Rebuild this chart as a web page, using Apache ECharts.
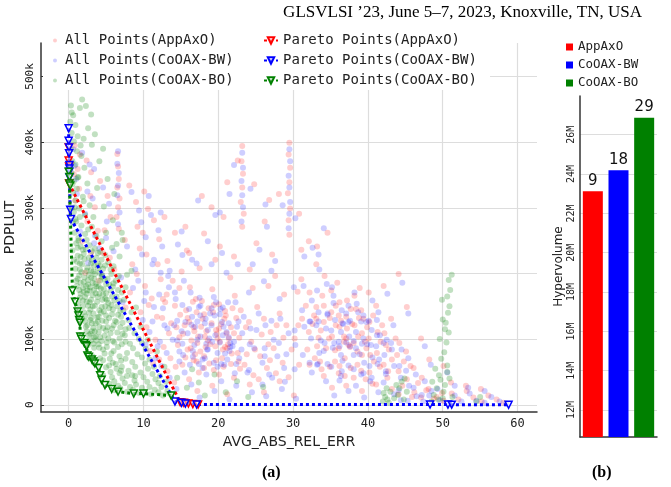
<!DOCTYPE html>
<html><head><meta charset="utf-8">
<script src="https://cdn.jsdelivr.net/npm/echarts@6/dist/echarts.min.js"></script>
<style>html,body{margin:0;padding:0;background:#fff}#c{width:671px;height:487px}</style>
</head><body><div id="c"></div>
<script>
// ---- Scatter cloud samples (x = AVG_ABS_REL_ERR, y = PDPLUT in thousands) ----
const allPointsAppAxO = [
[0.8,395],[1.5,381],[2.4,372],[1.2,359],[3.0,354],[6.5,382],[6.6,363],[6.7,344],[6.5,331],[6.8,314],[6.6,301],[6.4,286],[6.7,268],[4.2,341],[5.2,318],[8.1,334],[9.0,309],[10.6,298],[11.4,281],[3.5,301],[2.5,279],[4.8,266],[7.5,251],[9.5,238],[1.8,249],[3.0,231],[5.5,224],[8.5,214],[10.4,229],[12.1,252],[13.2,219],[2.2,201],[4.0,189],[6.1,206],[0.9,311],[1.4,329],[0.7,351],
[9.1,199],[10.2,181],[11.1,162],[12.3,191],[13.1,168],[14.2,151],[15.1,203],[16.2,179],[17.0,161],[18.1,138],[19.2,176],[20.1,153],[21.0,136],[22.2,166],[23.0,144],[24.1,126],[25.2,149],[26.1,131],[27.0,111],[28.2,139],[29.1,121],[30.2,101],
[9.6,141],[10.4,118],[11.6,99],[12.5,132],[13.4,109],[14.6,91],[15.5,121],[16.4,98],[17.6,81],[18.4,112],[19.6,89],[20.5,71],[21.4,101],[22.6,79],[23.5,61],[24.4,96],[25.6,74],[26.5,56],[27.4,86],[28.6,64],
[12.1,69],[13.2,51],[14.1,34],[15.2,61],[16.1,39],[17.2,21],[18.1,56],[19.2,29],[20.1,46],[21.2,16],[22.1,41],[24.2,31],[26.1,19],[28.2,36],[30.1,14],
[16.1,126],[18.2,104],[20.1,116],[17.2,94],[19.1,124],[21.2,86],[18.1,74],[20.2,96],[22.1,109],[17.1,141],[19.8,108],[21.7,118],[16.8,112],[20.6,84],[18.9,92],
[23.2,394],[23.1,371],[23.3,352],[23.2,331],[23.0,309],[23.4,291],[23.2,271],[29.5,399],[29.4,381],[29.6,361],[29.5,339],[29.3,322],[29.6,299],[29.4,281],[29.5,259],[18.1,261],[20.2,241],[22.1,226],[25.1,246],[27.2,229],[31.1,236],[19.1,301],[26.2,279],[28.1,321],[21.2,339],[32.1,249],[33.1,214],[24.2,206],[16.1,231],[14.2,262],
[31.1,191],[32.2,171],[33.1,149],[34.2,196],[35.1,174],[36.2,156],[37.1,134],[38.2,166],[39.1,144],[40.2,126],[41.1,151],[42.2,109],[43.1,131],[44.2,94],[45.1,81],
[31.2,131],[32.1,111],[33.2,89],[34.1,126],[35.2,104],[36.1,86],[37.2,116],[38.1,94],[39.2,76],[40.1,101],[41.2,79],[42.1,61],[43.2,69],[44.1,51],[45.2,39],[46.1,56],
[32.2,61],[34.1,44],[36.2,59],[38.1,41],[40.2,49],[41.1,31],[43.2,24],[44.1,16],[46.2,19],[47.1,11],[39.2,21],[37.1,29],[35.2,26],
[35.1,141],[36.2,119],[37.1,101],[38.2,121],[34.1,151],[39.2,109],[36.1,136],[37.2,159],[40.1,171],[37.6,88],[38.8,132],[36.8,104],[39.9,118],
[48.1,24],[49.2,12],[50.1,6],[51.2,17],[52.1,8],[53.2,21],[54.1,11],[55.2,5],[56.1,14],[57.2,8],[58.1,3],[55.1,24],[53.1,29],[51.1,34],[47.2,41],
[42.1,181],[45.2,149],[47.1,101],[48.2,69],[44.1,199],[33.2,241],[50.1,59],
[10.7,152],[11.8,134],[12.9,156],[13.7,124],[14.9,137],[15.7,144],[16.6,157],[17.7,119],[18.7,147],[19.7,114],[20.8,131],[21.9,147],[22.8,102],[23.7,118],[24.9,84],[25.8,107],[26.7,92],[27.8,121],[28.7,102],[29.8,84],[30.7,121],
[10.9,82],[11.3,63],[12.7,88],[13.6,71],[14.3,58],[15.9,84],[16.7,68],[17.4,49],[18.8,63],[19.4,53],[20.9,88],[21.7,62],[22.9,55],[23.8,77],[24.7,45],[25.4,39],[26.9,68],[27.7,48],[29.4,42],[30.8,61],
[31.7,151],[32.8,136],[33.7,113],[34.8,101],[35.7,121],[36.8,96],[37.7,146],[38.7,104],[39.8,86],[40.7,136],[41.7,96],[42.8,84],[43.7,101],[44.8,66],[45.7,59],[33.9,166],[35.9,186],[38.9,178],[41.9,121],[43.9,76],
[31.9,84],[32.9,71],[33.8,54],[35.6,66],[36.9,44],[38.6,61],[39.7,39],[40.8,66],[42.6,41],[44.6,29],[46.7,33],[47.8,22],[45.9,12],[48.8,9],[49.9,18],
[8.2,171],[7.6,148],[9.9,262],[11.9,214],[13.9,189],[14.8,178],[12.6,161],[15.8,235],[17.5,208],[19.6,221],[21.6,194],[24.6,178],[26.7,181],[28.8,168],[30.6,172],[27.6,196],
[4.6,231],[5.6,286],[3.9,265],[2.9,318],[9.2,271],[10.1,325],[12.8,286],[15.6,271],[17.8,318],[20.7,286],[24.8,336],[26.8,312],[30.8,291],[34.6,262],[22.6,372],
[14.4,118],[15.3,108],[15.9,132],[16.7,118],[17.3,104],[17.9,131],[18.6,98],[19.3,141],[19.9,101],[20.4,123],[21.1,109],[21.8,78],[22.4,132],[15.6,72],[16.3,86],[17.1,66],[18.3,88],[19.7,68],[20.7,58],[21.3,92],[22.7,66],[14.8,103],[17.8,158],[19.4,152],[20.9,143],[16.9,77],
[32.6,123],[33.4,102],[34.4,86],[34.9,132],[35.6,83],[36.4,128],[36.9,71],[37.4,91],[37.9,123],[38.6,81],[39.4,131],[39.6,96],[40.3,76],[41.3,111],[41.6,58],[42.4,91],[33.6,66],[34.9,58],[36.1,48],[37.7,56],[39.1,52],[40.6,32],[42.7,51],[35.7,151],[38.4,146],[33.1,131]
];
const allPointsCoOAXBW = [
[0.6,389],[1.8,384],[2.8,366],[1.0,344],[3.4,359],[6.6,386],[6.5,367],[6.7,353],[6.6,334],[6.5,319],[6.8,293],[6.6,275],[4.6,331],[5.4,306],[8.4,324],[9.4,296],[11.0,289],[12.0,266],[3.2,314],[2.2,291],[5.0,254],[7.8,241],[9.8,229],[1.5,264],[3.4,246],[6.0,234],[8.9,206],[11.2,214],[12.5,241],[13.5,204],[2.6,216],[4.4,199],[7.0,194],[1.1,321],[0.8,364],
[9.3,189],[10.3,171],[11.4,149],[12.3,201],[13.4,179],[14.3,161],[15.4,189],[16.3,171],[17.4,149],[18.3,131],[19.4,164],[20.3,146],[21.4,124],[22.3,156],[23.4,134],[24.3,116],[25.4,139],[26.3,121],[27.4,99],[28.3,131],[29.4,109],[30.3,91],
[9.9,129],[10.8,111],[11.9,89],[12.8,121],[13.9,99],[14.8,81],[15.9,109],[16.8,91],[17.9,69],[18.8,101],[19.9,79],[20.8,61],[21.9,89],[22.8,71],[23.9,49],[24.8,86],[25.9,64],[26.8,46],[27.9,74],[28.8,56],
[12.4,59],[13.5,41],[14.4,24],[15.5,49],[16.4,31],[17.5,11],[18.4,46],[19.5,21],[20.4,36],[21.5,8],[22.4,29],[24.5,19],[26.4,13],[28.5,24],[30.4,9],
[16.5,134],[18.6,114],[20.5,126],[17.6,104],[19.5,136],[21.6,94],[18.5,84],[20.6,106],[22.5,119],[17.6,151],[19.2,96],[21.1,111],[16.9,119],[20.9,78],[18.2,124],
[23.2,384],[23.3,361],[23.1,341],[23.2,319],[23.3,301],[23.1,279],[29.5,389],[29.6,371],[29.4,349],[29.5,331],[29.6,309],[29.5,291],[29.4,269],[18.6,249],[20.5,231],[22.6,214],[25.5,236],[27.6,219],[31.5,226],[19.6,289],[26.5,271],[28.6,304],[21.5,321],[32.6,239],[33.5,206],[24.6,214],[16.5,221],[14.6,244],
[31.4,181],[32.5,159],[33.4,141],[34.5,184],[35.4,166],[36.5,144],[37.4,126],[38.5,154],[39.4,136],[40.5,114],[41.4,141],[42.5,99],[43.4,121],[44.5,84],[45.4,71],
[31.5,119],[32.4,101],[33.5,79],[34.4,116],[35.5,94],[36.4,76],[37.5,104],[38.4,86],[39.5,64],[40.4,91],[41.5,69],[42.4,51],[43.5,59],[44.4,41],[45.5,29],[46.4,46],
[32.5,49],[34.4,36],[36.5,51],[38.4,29],[40.5,41],[41.4,19],[43.5,16],[44.4,7],[46.5,13],[47.4,5],[39.5,11],[37.4,21],[35.5,14],
[35.6,129],[36.4,111],[37.6,89],[38.4,111],[34.6,139],[39.4,101],[36.6,124],[37.4,151],[40.6,159],[38.1,76],[39.8,126],[36.1,96],[41.2,106],
[48.5,21],[49.6,7],[50.5,3],[51.6,14],[52.5,5],[53.6,17],[54.5,6],[55.6,3],[56.5,12],[57.6,5],[58.5,2],[55.6,21],[53.4,26],[51.6,29],[47.6,36],
[42.6,169],[45.4,139],[47.6,89],[48.4,61],[44.6,186],[33.4,229],[50.6,49],
[10.1,158],[11.2,127],[12.6,147],[13.2,116],[14.5,128],[15.2,152],[16.1,146],[17.2,127],[18.9,139],[19.1,121],[20.2,138],[21.3,156],[22.1,96],[23.2,109],[24.2,92],[25.1,114],[26.2,86],[27.1,128],[28.1,94],[29.1,77],[30.2,113],
[10.3,91],[11.6,71],[12.2,96],[13.1,79],[14.8,66],[15.2,93],[16.2,61],[17.9,56],[18.2,71],[19.9,58],[20.2,95],[21.2,69],[22.2,48],[23.1,84],[24.1,53],[25.9,31],[26.2,74],[27.2,41],[28.9,35],[30.2,54],
[31.2,144],[32.2,127],[33.1,121],[34.2,94],[35.1,113],[36.2,89],[37.1,139],[38.1,97],[39.2,93],[40.1,128],[41.1,89],[42.2,76],[43.1,94],[44.2,59],[45.1,52],[33.2,174],[35.2,179],[38.2,171],[41.2,129],[43.2,84],
[31.3,76],[32.2,64],[33.2,61],[35.1,58],[36.2,37],[38.1,54],[39.1,46],[40.2,59],[42.1,34],[44.1,22],[46.1,26],[47.2,15],[45.3,6],[48.2,14],[49.3,24],
[8.6,178],[7.2,156],[10.3,255],[11.4,221],[13.3,196],[14.2,171],[12.1,168],[15.2,228],[17.1,215],[19.1,214],[21.1,201],[24.1,171],[26.1,188],[28.2,161],[30.1,179],[27.1,204],
[4.1,238],[5.1,279],[3.5,258],[2.5,325],[9.7,278],[10.7,318],[12.3,293],[15.1,264],[17.3,311],[20.2,293],[24.3,329],[26.3,305],[30.3,284],[34.1,269],[22.1,365],
[14.1,121],[15.1,112],[15.6,126],[16.4,122],[17.2,99],[17.6,136],[18.4,93],[19.1,147],[19.6,106],[20.7,119],[21.4,103],[21.5,82],[22.7,127],[15.3,76],[16.6,82],[17.4,62],[18.6,84],[19.4,64],[20.4,62],[21.6,88],[22.4,62],[14.5,98],[17.5,163],[19.7,156],[20.6,148],[16.6,73],
[32.3,127],[33.7,98],[34.1,82],[34.6,137],[35.3,87],[36.7,123],[36.6,67],[37.1,95],[37.6,128],[38.9,77],[39.1,127],[39.9,92],[40.6,72],[41.6,106],[41.3,62],[42.1,94],[33.3,62],[34.6,62],[36.4,44],[37.4,60],[39.4,48],[40.3,36],[42.4,47],[35.4,155],[38.7,141],[33.4,127]
];
const allPointsCoOAXBO = [
[0.3,456],[0.6,441],[0.2,431],[0.9,426],[0.4,414],[1.2,409],[0.7,401],[0.3,389],[1.1,386],[1.7,379],[0.5,371],[0.9,366],[2.1,361],[0.4,353],[1.3,347],[0.7,341],[2.5,337],[1.1,329],[0.6,323],[1.9,317],[0.9,311],[2.8,304],[1.4,299],[0.7,294],[2.2,289],[3.3,286],[1.0,279],[1.7,273],[2.6,267],[0.8,262],[3.7,257],[1.3,254],[4.4,249],
[2.6,421],[3.1,396],[4.1,371],[5.2,344],[6.1,321],[3.0,442],[4.7,302],[5.9,281],[7.1,262],[1.5,452],[2.0,405],[3.8,330],[1.8,465],
[1.0,246],[1.6,241],[2.3,237],[3.1,234],[3.9,231],[1.2,227],[2.7,224],[4.4,221],[5.3,217],[1.8,214],[3.4,212],[0.9,207],[2.4,204],[4.1,201],[5.7,199],[1.4,197],[3.0,194],[4.8,191],[6.3,189],[2.0,187],[3.6,184],[1.1,181],[2.9,179],[4.3,177],[5.6,174],[7.1,171],[1.6,169],[3.2,167],[2.2,164],[4.9,162],[6.1,159],[3.8,157],[1.3,154],[2.6,151],[4.4,149],[5.4,147],[7.3,144],[2.0,141],[3.3,139],[6.6,137],[4.0,134],[1.8,131],[2.9,129],[5.0,127],[3.6,124],[6.0,121],[2.3,119],[4.6,117],[7.6,115],[3.1,112],[5.6,109],[2.7,106],[4.2,103],[6.8,101],[3.7,98],[5.1,95],[8.2,93],
[2.5,209],[3.5,199],[4.2,189],[2.8,174],[3.9,164],[2.4,157],[4.7,142],[3.2,150],[2.1,194],[3.1,221],[4.6,207],[3.7,180],[2.7,140],[3.9,127],[5.3,155],[1.9,159],[4.1,169],[2.3,181],[3.0,205],[5.0,184],[1.5,215],[2.0,230],[2.6,190],[3.4,175],[4.5,160],[5.8,138],[6.5,150],[5.2,118],[4.8,105],[3.5,112],
[2.6,91],[3.4,87],[4.6,84],[6.0,82],[7.8,79],[9.2,77],[3.2,74],[4.2,71],[5.5,70],[7.0,67],[8.5,65],[10.2,63],[3.9,60],[5.0,57],[6.4,55],[8.0,52],[9.6,49],[11.2,47],[4.6,45],[5.8,42],[7.2,40],[8.8,37],[10.5,35],[12.0,33],[5.4,32],[6.6,29],[8.2,27],[9.8,26],[11.5,23],[6.2,22],[7.8,20],[9.4,18],[11.0,16],[12.6,14],[13.2,21],[12.2,44],[10.8,69],[9.8,94],[8.8,109],[8.0,129],[9.0,148],[7.6,179],[8.4,204],[6.8,226],[5.8,239],[7.2,251],[9.6,119],[10.6,99],[11.8,81],[12.8,58],
[14.5,41],[15.8,26],[16.5,54],[17.4,34],[18.2,14],[19.5,46],[21.0,19],[22.5,36],[24.0,12],[26.0,27],
[0.5,336],[0.8,301],[1.5,286],[0.6,276],[2.4,251],[1.2,239],[0.7,221],[1.7,202],[1.0,189],[2.5,174],[1.4,175],[2.0,172],[1.6,186],[3.4,192],[4.5,197],[3.9,215],[4.9,228],[6.0,211],[6.7,196],[5.9,180],[5.0,170],[6.4,165],[7.4,160],[5.7,152],[4.3,140],[3.0,132],[2.2,127],[2.4,112],[3.4,103],[4.0,111],[5.0,136],[6.2,128],[6.9,118],[7.2,108],[5.9,97],[6.6,88],[7.6,96],[8.6,86],[4.0,92],[3.0,98],[4.8,78],[5.9,64],[7.1,58],[8.9,58],[9.8,72],[10.6,55],[11.6,39],[10.0,42],[8.5,45],[6.8,48],[7.5,33],[9.0,31],[10.8,27],[12.4,27],[13.0,35],[8.6,23],[10.2,20],[12.0,19],[13.5,17],[11.4,58],[9.4,100],[10.3,85],[8.1,117],[7.0,134],[8.4,141],[7.8,198],[6.4,245],[5.0,262],[3.1,271],[2.0,310],[1.2,346],[1.6,395],[0.4,445],[2.3,455],[3.5,412],[4.6,390],[0.4,300],[0.5,235],[0.9,283],
[1.3,250],[1.9,236],[2.8,243],[3.5,238],[4.2,233],[1.1,218],[2.1,222],[3.0,215],[3.9,208],[4.9,212],[5.6,206],[1.5,206],[2.7,198],[3.3,203],[4.4,195],[5.2,192],[6.0,185],[1.2,192],[1.9,178],[2.6,183],[3.2,186],[4.0,180],[4.7,176],[5.4,183],[6.6,175],[1.5,163],[2.4,169],[3.0,160],[3.6,170],[4.6,168],[5.1,160],[5.8,165],[6.8,158],[1.9,150],[2.9,145],[3.5,151],[4.1,144],[4.9,150],[5.9,145],[6.9,143],[2.2,135],[3.1,124],[3.8,133],[4.5,128],[5.4,132],[6.4,126],[7.2,125],[2.5,121],[3.3,117],[4.1,119],[5.0,113],[5.8,116],[6.5,110],[7.5,106],[2.9,108],[3.6,104],[4.4,97],[5.3,101],[6.1,95],[7.1,92],[3.3,93],[4.1,87],[5.1,88],[5.7,78],[6.8,74],[7.6,70],[4.6,68],[5.4,60],[6.3,62],[7.0,52],[7.8,44],[8.9,44],[5.6,50],[6.1,36],[6.9,25],[2.2,260],[1.6,225],[3.7,224],[4.2,212],[2.8,156],
[42.0,5],[42.3,12],[42.6,8],[42.1,18],[42.8,3],[43.5,10],[44.2,25],[44.5,35],[44.0,15],[44.8,8],[45.2,20],[43.8,30],[43.0,20],[44.9,40],[42.5,25],
[48.5,5],[48.8,15],[49.2,25],[48.6,35],[49.5,45],[49.0,55],[50.0,10],[50.3,30],[50.6,60],[50.2,80],[50.5,95],[50.8,110],[50.4,125],[50.7,140],[50.9,150],[50.6,165],[51.0,175],[50.8,190],[51.2,198],[49.8,70],[50.1,20],[49.4,8],[51.3,12],[50.9,40],[49.6,100],[50.0,130],[49.9,160],[50.3,115],[49.7,38],[50.6,50],[54.5,5],[55.0,12]
];
// ---- Pareto fronts ----
const paretoAppAxO = [[0,392],[0,372],[0.05,363],[0.05,337],[14.9,4],[15.4,3],[16.0,2],[16.6,1],[17.3,0.5]];
const paretoCoOAXBW = [[0,421],[0,402],[0.05,392],[0.05,383],[0.1,365],[0.1,360],[0.1,355],[0.1,346],[0.2,297],[0.3,283],[14.2,5],[15.1,3],[15.6,2],[17.1,0.5],[48.3,0.4],[50.7,0.3],[51.2,0.2],[58.8,0.1]];
const paretoCoOAXBO = [[0,355],[0.1,347],[0.1,337],[0.2,334],[0.5,174],[0.85,157],[1.2,142],[1.3,136],[1.4,129],[1.5,125],[1.55,104],[1.7,100],[2.1,94],[2.3,91],[2.4,89],[2.5,75],[2.7,73],[3.1,69],[3.3,66],[3.5,63],[4.0,56],[4.2,45],[4.4,38],[4.85,30],[5.75,24],[6.6,20],[8.7,17],[10.0,17],[13.7,14]];
// ---- Hypervolume bars (in millions) ----
const methods = ['AppAxO','CoOAX-BW','CoOAX-BO'];
const hypervolume = [23.13, 24.2, 26.87];
const barLabels = ['9','18','29'];
const colors = ['#ff0000','#0000ff','#008000'];
const cloudColors = ['rgba(255,0,0,0.24)','rgba(0,0,255,0.24)','rgba(0,128,0,0.3)'];

const mono = 'DejaVu Sans Mono';
const sans = 'DejaVu Sans';
const clouds = [allPointsAppAxO, allPointsCoOAXBW, allPointsCoOAXBO];
const fronts = [paretoAppAxO, paretoCoOAXBW, paretoCoOAXBO];
const series = [];
methods.forEach((m,i)=>{
  series.push({type:'scatter', name:'All Points('+m+')', xAxisIndex:0, yAxisIndex:0,
    data:clouds[i], symbol:'circle', symbolSize:6, itemStyle:{color:cloudColors[i]}, z:2});
});
methods.forEach((m,i)=>{
  series.push({type:'line', name:'Pareto Points('+m+')', xAxisIndex:0, yAxisIndex:0,
    data:fronts[i], symbol:'triangle', symbolRotate:180, symbolSize:7, showAllSymbol:true,
    lineStyle:{color:colors[i], width:3, type:[3,3]},
    itemStyle:{color:'rgba(255,255,255,0.5)', borderColor:colors[i], borderWidth:1.5}, z:5});
});
methods.forEach((m,i)=>{
  series.push({type:'bar', name:m, xAxisIndex:1, yAxisIndex:1, barWidth:20, barGap:'-100%',
    data:methods.map((_,j)=> j===i ? hypervolume[i] : '-'),
    itemStyle:{color:colors[i]},
    label:{show:true, position:'top', distance:3, fontFamily:sans, fontSize:15, color:'#111',
      formatter:()=>barLabels[i]}});
});

const chart = echarts.init(document.getElementById('c'));
chart.setOption({
  animation:false,
  backgroundColor:'#fff',
  title:[
    {text:'GLSVLSI ’23, June 5–7, 2023, Knoxville, TN, USA', right:29, top:4, padding:0,
     textStyle:{fontFamily:'Liberation Serif', fontSize:17, fontWeight:'normal', color:'#000'}},
    {text:'(a)', left:262, top:465, padding:0, textStyle:{fontFamily:'Liberation Serif', fontSize:16, fontWeight:'bold', color:'#000'}},
    {text:'(b)', left:592, top:465, padding:0, textStyle:{fontFamily:'Liberation Serif', fontSize:16, fontWeight:'bold', color:'#000'}}
  ],
  graphic:[{type:'rect', shape:{x:43, y:30, width:447, height:60}, style:{fill:'#fff'}, z:3, silent:true}],
  legend:[
    {orient:'vertical', left:53, top:32, padding:0, itemGap:3, itemWidth:10, itemHeight:4, icon:'circle',
     data:methods.map(m=>'All Points('+m+')'),
     textStyle:{fontFamily:mono, fontSize:14, color:'#222', lineHeight:17}},
    {orient:'vertical', left:263, top:32, padding:0, itemGap:3, itemWidth:14, itemHeight:8,
     data:methods.map(m=>'Pareto Points('+m+')'),
     textStyle:{fontFamily:mono, fontSize:14, color:'#222', lineHeight:17}},
    {orient:'vertical', left:566, top:40, padding:0, itemGap:4, itemWidth:7, itemHeight:7, icon:'rect',
     data:methods, textStyle:{fontFamily:mono, fontSize:12.5, color:'#222', lineHeight:14}}
  ],
  grid:[
    {left:41, right:134, top:43, bottom:75, containLabel:false, outerBoundsMode:'none'},
    {left:580, right:14, top:96, bottom:50, containLabel:false, outerBoundsMode:'none'}
  ],
  xAxis:[
    {type:'value', gridIndex:0, min:-3.7, max:62.6, splitNumber:5,
     name:'AVG_ABS_REL_ERR', nameLocation:'middle', nameGap:21,
     nameTextStyle:{fontFamily:sans, fontSize:14, color:'#222'},
     axisLine:{show:true, onZero:false, lineStyle:{color:'#333', width:1.5}},
     axisTick:{show:false},
     axisLabel:{fontFamily:mono, fontSize:12, color:'#222', margin:6, showMinLabel:false, showMaxLabel:false},
     splitLine:{show:true, showMinLine:false, showMaxLine:false, lineStyle:{color:'#ddd', width:1.2}}},
    {type:'category', gridIndex:1, data:methods,
     axisLine:{show:true, lineStyle:{color:'#333', width:1.5}},
     axisTick:{show:false}, axisLabel:{show:false}, splitLine:{show:false}}
  ],
  yAxis:[
    {type:'value', gridIndex:0, min:-11, max:551, splitNumber:5,
     name:'PDPLUT', nameLocation:'middle', nameGap:14,
     nameTextStyle:{fontFamily:sans, fontSize:14, color:'#222'},
     axisLine:{show:true, onZero:false, lineStyle:{color:'#333', width:1.5}},
     axisTick:{show:true, inside:true, length:3, lineStyle:{color:'#333'}},
     axisLabel:{fontFamily:mono, fontSize:11, color:'#222', rotate:90, margin:5, showMinLabel:false, showMaxLabel:false,
       formatter:v=> v===0 ? '0' : v+'k'},
     splitLine:{show:true, showMinLine:false, showMaxLine:false, lineStyle:{color:'#ddd', width:1.2}}},
    {type:'value', gridIndex:1, min:10.63, max:27.97, splitNumber:8,
     name:'Hypervolume', nameLocation:'middle', nameGap:11,
     nameTextStyle:{fontFamily:sans, fontSize:12, color:'#222'},
     axisLine:{show:true, lineStyle:{color:'#333', width:1.5}},
     axisTick:{show:false},
     axisLabel:{fontFamily:mono, fontSize:10, color:'#222', rotate:90, margin:4, showMinLabel:false, showMaxLabel:false,
       formatter:v=> v+'M'},
     splitLine:{show:true, showMinLine:false, showMaxLine:false, lineStyle:{color:'#ddd', width:1.2}}}
  ],
  series:series
});
</script>
</body></html>
